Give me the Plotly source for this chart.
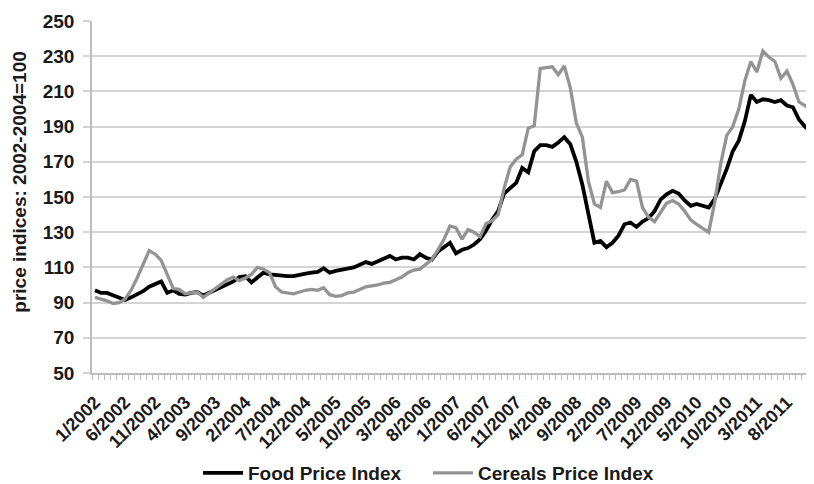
import plotly.graph_objects as go

# Categories: monthly, 1/2002 .. 12/2011
months = [f"{m}/{y}" for y in range(2002, 2012) for m in range(1, 13)]

food_price_index = [
    97, 95.5, 95.5, 94, 93, 91.5, 93, 94.5, 96.5, 99, 100.5, 102,
    95.5, 97, 95, 94.5, 95.5, 96, 94, 95.5, 97, 98.5, 100, 102,
    104.5, 105, 101.5, 104, 107, 106, 105.5, 105, 105, 105, 106, 106.5,
    107, 107.5, 109.5, 107, 108, 108.5, 109, 110, 111.5, 113, 112, 113.5,
    115, 116.5, 114.5, 115.5, 115.5, 114.5, 117.5, 115.5, 114.5, 119, 121.5, 124,
    118, 120, 121, 123, 126, 131, 137, 142, 152, 155, 158, 166.5,
    164, 176, 179.5, 179.5, 178.5, 181, 184, 180, 170, 157, 140, 124,
    125, 121.5, 124, 128, 134.5, 135.5, 133, 136, 138, 142, 148.5, 151.5,
    153.5, 152, 148, 145, 146, 145, 144, 149, 157, 166, 176, 182,
    193, 208, 204, 205.5, 205, 204, 205, 202, 201, 194, 190, 187,
]

cereals_price_index = [
    93, 92, 91, 89.5, 90, 92, 97, 104, 112, 119.5, 117.5, 114,
    106, 98, 97.5, 95, 95.5, 96, 93, 95.5, 97.5, 100, 103, 104.5,
    102.5, 104, 106, 110, 109, 107, 99, 96, 95.5, 95, 96, 97,
    97.5, 97, 98.5, 94.5, 93.5, 94, 95.5, 96, 97.5, 99, 99.5, 100,
    101, 101.5, 103, 104.5, 107, 108.5, 109, 112, 114.5, 120, 126, 133.5,
    132.5, 126, 131.5, 130, 127.5, 135, 136.5, 140, 155, 167, 171.5, 174,
    189, 190.5, 223, 223.5, 224, 219.5, 224.5, 212, 192, 184, 159, 146,
    144, 159, 152.5, 153, 154, 160, 159, 144, 138.5, 136, 141, 146.5,
    148, 146, 142, 137, 134.5, 132.5, 130, 147, 169, 185, 190, 200,
    216, 227, 221, 233, 229.5, 227, 217.5, 221.5, 214, 204, 202, 199,
]

y_ticks = [50, 70, 90, 110, 130, 150, 170, 190, 210, 230, 250]
label_step = 5

x_idx = list(range(len(months)))
tick_idx = x_idx[::label_step]
tick_text = months[::label_step]
boundaries = [i - 0.5 for i in range(len(months) + 1)]

FONT = "Liberation Sans, Arial, sans-serif"
GRID = "#d4d4d4"
TXT = "#1a1a1a"

fig = go.Figure()
fig.add_trace(go.Scatter(
    x=x_idx, y=food_price_index, mode="lines", name="Food Price Index",
    line=dict(color="#000000", width=3.8),
))
fig.add_trace(go.Scatter(
    x=x_idx, y=cereals_price_index, mode="lines", name="Cereals Price Index",
    line=dict(color="#939393", width=3.3),
))

fig.update_layout(
    width=814, height=484,
    margin=dict(l=84, r=8, t=13, b=119, autoexpand=False),
    paper_bgcolor="white", plot_bgcolor="white",
    font=dict(family=FONT, size=19, color=TXT, weight="bold"),
    showlegend=True,
    legend=dict(
        orientation="h", xref="container", yref="container",
        x=0.2334, xanchor="left", y=-0.012, yanchor="bottom",
        font=dict(family=FONT, size=19, color=TXT, weight="bold"),
        itemwidth=40, tracegroupgap=0, entrywidth=175,
    ),
    annotations=[dict(
        text="price indices: 2002-2004=100", textangle=-90,
        xref="paper", yref="paper", x=-0.1, y=0.543,
        xanchor="center", yanchor="middle", showarrow=False,
        font=dict(family=FONT, size=19, color=TXT, weight="bold"),
    )],
)

fig.update_xaxes(
    range=[-0.5, len(months) - 0.5], automargin=False,
    tickmode="array", tickvals=tick_idx, ticktext=tick_text,
    tickangle=-45, ticks="", showgrid=False, zeroline=False,
    showline=True, linecolor="#bdbdbd", linewidth=1.5,
    tickfont=dict(family=FONT, size=18, color=TXT, weight="bold"),
    ticklabelstandoff=10,
    minor=dict(tickmode="array", tickvals=boundaries, ticks="outside",
               ticklen=5, tickcolor="#bdbdbd", tickwidth=1, showgrid=False),
)
fig.update_yaxes(
    range=[50, 250], automargin=False, tickmode="array", tickvals=y_ticks,
    showgrid=True, gridcolor=GRID, gridwidth=1.5, zeroline=False,
    showline=True, linecolor="#bdbdbd", linewidth=1.5,
    ticks="outside", ticklen=7, tickcolor=GRID, tickwidth=1.5,
    tickfont=dict(family=FONT, size=19, color=TXT, weight="bold"),
    ticklabelstandoff=5,
)

fig.write_html("out.html")
